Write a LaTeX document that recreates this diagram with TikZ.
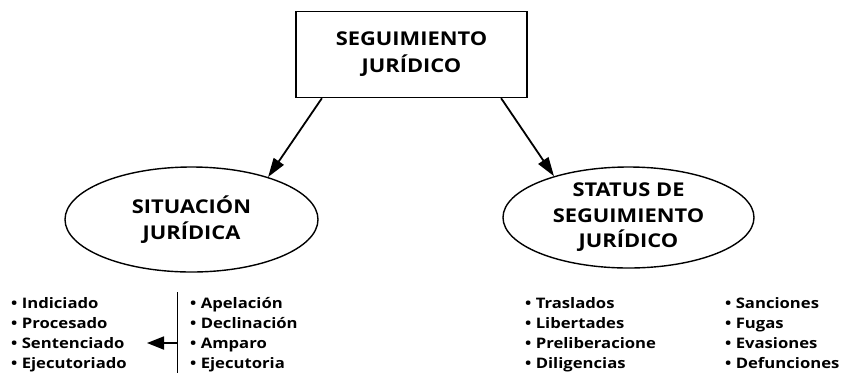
\documentclass[tikz,border=0pt]{standalone}
\usepackage{fontspec}
\setmainfont{Open Sans}[FakeStretch=1.15]
\usetikzlibrary{shapes.geometric,arrows.meta}
\begin{document}
\begin{tikzpicture}[x=1pt,y=-1pt,
  every node/.style={inner sep=0pt, font=\bfseries},
  mainbox/.style={draw, line width=1.4pt, minimum width=231pt, minimum height=86pt, align=center, font=\bfseries\fontsize{19}{27}\selectfont},
  oval/.style={draw, ellipse, line width=1.4pt, align=center, font=\bfseries\fontsize{19}{25.5}\selectfont},
  listbox/.style={align=left, anchor=north west, font=\bfseries\fontsize{14.5}{19.7}\selectfont},
  conn/.style={line width=1.8pt, -{Triangle[length=19pt,width=12pt]}}
]
\useasboundingbox (0,0) rectangle (842,373);
\node[mainbox] (box) at (411.5,54.5) {SEGUIMIENTO\\JURÍDICO};
\node[oval, minimum width=253pt, minimum height=105pt] (sit) at (191.5,219.5) {SITUACIÓN\\JURÍDICA};
\node[oval, minimum width=251pt, minimum height=101pt] (stat) at (628.5,217.5) {STATUS DE\\SEGUIMIENTO\\JURÍDICO};
\draw[conn] (box.206) -- (sit.29);
\draw[conn] (box.334) -- (stat.151);
\node[listbox] (l1) at (11,295) {\strut• Indiciado\\• Procesado\\• Sentenciado\\• Ejecutoriado};
\node[listbox] (l2) at (190,295) {\strut• Apelación\\• Declinación\\• Amparo\\• Ejecutoria};
\node[listbox] (l3) at (525,295) {\strut• Traslados\\• Libertades\\• Preliberacione\\• Diligencias};
\node[listbox] (l4) at (725,295) {\strut• Sanciones\\• Fugas\\• Evasiones\\• Defunciones};
\coordinate (vt) at (177.5,292);
\coordinate (vb) at (177.5,373);
\coordinate (va) at (177.5,343);
\coordinate (vtip) at (147,343);
\draw[line width=1.4pt] (vt) -- (vb);
\draw[line width=1.8pt, -{Triangle[length=17pt,width=13pt]}] (va) -- (vtip);
\end{tikzpicture}
\end{document}
